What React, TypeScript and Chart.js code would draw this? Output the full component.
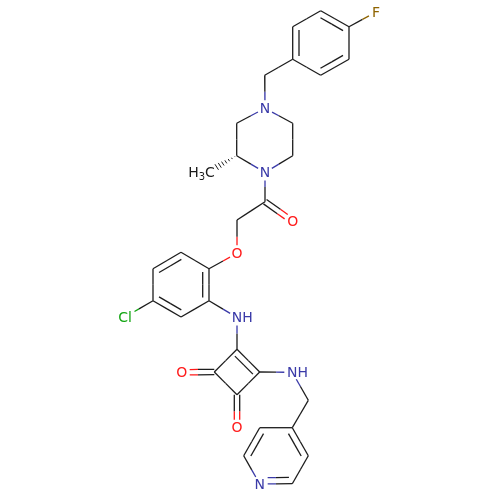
import { useEffect, useRef } from 'react'
import { Chart, registerables } from 'chart.js'

Chart.register(...registerables)

// atom positions (y runs downward)
const atomX = [376, 349, 320.7, 292.7, 292.7, 320.7, 349, 264.7, 265, 236.7, 236.7, 265, 292.7, 292.7, 210, 265, 292.7, 237, 237, 209, 181, 153, 153, 181, 209, 125, 237, 237, 259.7, 237, 214.3, 181.7, 237, 292.3, 308.3, 292.3, 259.7, 243.7, 259.7, 292.3, 308.3]
const atomY = [12, 26.7, 10.7, 26.7, 59.3, 75.3, 59.3, 75.3, 108.3, 123.3, 155.7, 172.5, 155.7, 123.3, 172.7, 201.7, 221.3, 220, 253.3, 268.7, 252.3, 268.7, 300.7, 317, 300.7, 317, 317.5, 349.3, 372, 394.7, 372, 372.3, 427.7, 372.3, 400.3, 427.7, 427.7, 455.7, 484, 483.7, 455.7]
const atomElement = ['F', 'C', 'C', 'C', 'C', 'C', 'C', 'C', 'N', 'C', 'C', 'N', 'C', 'C', 'C', 'C', 'O', 'C', 'O', 'C', 'C', 'C', 'C', 'C', 'C', 'Cl', 'N', 'C', 'C', 'C', 'C', 'O', 'O', 'N', 'C', 'C', 'C', 'C', 'N', 'C', 'C']
const atomLabel = ['F', '', '', '', '', '', '', '', 'N', '', '', 'N', '', '', 'H3C', '', 'O', '', 'O', '', '', '', '', '', '', 'Cl', 'NH', '', '', '', '', 'O', 'O', 'NH', '', '', '', '', 'N', '', '']

const singleFrom = [0, 1, 2, 4, 4, 7, 8, 9, 10, 11, 12, 13, 11, 15, 17, 18, 19, 21, 22, 23, 24, 26, 27, 28, 29, 28, 33, 34, 35, 37, 39]
const singleTo = [1, 6, 3, 5, 7, 8, 9, 10, 11, 12, 13, 8, 15, 17, 18, 19, 20, 22, 25, 24, 26, 27, 30, 29, 30, 33, 34, 35, 36, 38, 40]

// ring double bonds: the inner line sits on the side of doubleInside
const doubleFrom = [1, 3, 5, 20, 19, 22, 27, 35, 36, 38]
const doubleTo = [2, 4, 6, 21, 24, 23, 28, 40, 37, 39]
const doubleInside = [4, 1, 2, 23, 21, 20, 29, 37, 40, 36]

// carbonyls: two lines either side of the axis
const carbonylFrom = [15, 30, 29]
const carbonylTo = [16, 31, 32]

const ticksOnWedge = [0.08, 0.22, 0.36, 0.5, 0.64, 0.78, 0.92]

const elementColor: Record<string, string> = {
  C: '#1c1c1c',
  N: '#3a3aa8',
  O: '#ff1a1a',
  F: '#8f6400',
  Cl: '#12a512',
}

const bondWidth = 1.3

function gapOf(i: number) {
  if (!atomLabel[i]) return 0
  return atomLabel[i] === 'Cl' ? 11 : 8
}

function line(x1: number, y1: number, x2: number, y2: number, color: string, width = bondWidth) {
  return {
    data: [{ x: x1, y: y1 }, { x: x2, y: y2 }],
    borderColor: color,
    borderWidth: width,
    showLine: true,
    pointRadius: 0,
    fill: false,
    clip: false,
  }
}

// one bond line: half in each atom's colour, stopped short of any label
function halves(a: number, b: number, ox: number, oy: number, trimA: number, trimB: number) {
  const dx = atomX[b] - atomX[a]
  const dy = atomY[b] - atomY[a]
  const len = Math.hypot(dx, dy)
  const ux = dx / len
  const uy = dy / len
  const mx = (atomX[a] + atomX[b]) / 2 + ox
  const my = (atomY[a] + atomY[b]) / 2 + oy
  const sa = Math.max(trimA, gapOf(a))
  const sb = Math.max(trimB, gapOf(b))
  return [
    line(atomX[a] + ox + ux * sa, atomY[a] + oy + uy * sa, mx, my, elementColor[atomElement[a]]),
    line(mx, my, atomX[b] + ox - ux * sb, atomY[b] + oy - uy * sb, elementColor[atomElement[b]]),
  ]
}

function normal(a: number, b: number) {
  const dx = atomX[b] - atomX[a]
  const dy = atomY[b] - atomY[a]
  const len = Math.hypot(dx, dy)
  return [-dy / len, dx / len]
}

function buildDatasets() {
  const sets: any[] = []
  singleFrom.forEach((a, i) => sets.push(...halves(a, singleTo[i], 0, 0, 0, 0)))
  doubleFrom.forEach((a, i) => {
    const b = doubleTo[i]
    const [nx, ny] = normal(a, b)
    const c = doubleInside[i]
    const side = (atomX[c] - atomX[a]) * nx + (atomY[c] - atomY[a]) * ny > 0 ? 1 : -1
    sets.push(...halves(a, b, 0, 0, 0, 0))
    sets.push(...halves(a, b, nx * side * 6.3, ny * side * 6.3, 3.3, 3.3))
  })
  carbonylFrom.forEach((a, i) => {
    const b = carbonylTo[i]
    const [nx, ny] = normal(a, b)
    sets.push(...halves(a, b, nx * 2.7, ny * 2.7, 0, 0))
    sets.push(...halves(a, b, -nx * 2.7, -ny * 2.7, 0, 0))
  })
  // hashed wedge from the ring carbon out to the methyl
  const [nx, ny] = normal(10, 14)
  const endX = atomX[14] + 5
  const endY = atomY[14] - 4.7
  ticksOnWedge.forEach((t) => {
    const cx = atomX[10] + (endX - atomX[10]) * t
    const cy = atomY[10] + (endY - atomY[10]) * t
    const half = 3.6 * t
    sets.push(line(cx - nx * half, cy - ny * half, cx + nx * half, cy + ny * half, elementColor.C, 1))
  })
  return sets
}

const labelPlugin = {
  id: 'atomLabels',
  afterDatasetsDraw(chart: Chart) {
    const { ctx, scales } = chart
    ctx.save()
    ctx.textBaseline = 'middle'
    ctx.textAlign = 'left'
    atomLabel.forEach((text, i) => {
      if (!text) return
      const px = scales.x.getPixelForValue(atomX[i])
      const py = scales.y.getPixelForValue(atomY[i]) + 1
      ctx.fillStyle = elementColor[atomElement[i]]
      ctx.font = '14px "DejaVu Sans"'
      if (text === 'NH') {
        const w = ctx.measureText('N').width
        ctx.fillText('NH', px - w / 2, py)
      } else if (text === 'H3C') {
        const cw = ctx.measureText('C').width
        const hw = ctx.measureText('H').width
        ctx.fillText('C', px - cw / 2, py)
        ctx.font = '10px "DejaVu Sans"'
        const sw = ctx.measureText('3').width
        ctx.fillText('3', px - cw / 2 - sw, py + 4)
        ctx.font = '14px "DejaVu Sans"'
        ctx.fillText('H', px - cw / 2 - sw - hw, py)
      } else {
        const w = ctx.measureText(text).width
        ctx.fillText(text, px - w / 2, py)
      }
    })
    ctx.restore()
  },
}

export default function App() {
  const chartRef = useRef<HTMLCanvasElement>(null)

  useEffect(() => {
    if (!chartRef.current) return
    document.body.style.margin = '0'
    const chart = new Chart(chartRef.current, {
      type: 'scatter',
      data: { datasets: buildDatasets() },
      options: {
        animation: false,
        responsive: false,
        layout: { padding: 0 },
        plugins: { legend: { display: false }, tooltip: { enabled: false } },
        scales: {
          x: { type: 'linear', min: 0, max: 500, display: false },
          y: { type: 'linear', min: 0, max: 500, reverse: true, display: false },
        },
      },
      plugins: [labelPlugin],
    })
    return () => chart.destroy()
  }, [])

  return <canvas ref={chartRef} width={500} height={500} style={{ display: 'block' }} />
}
